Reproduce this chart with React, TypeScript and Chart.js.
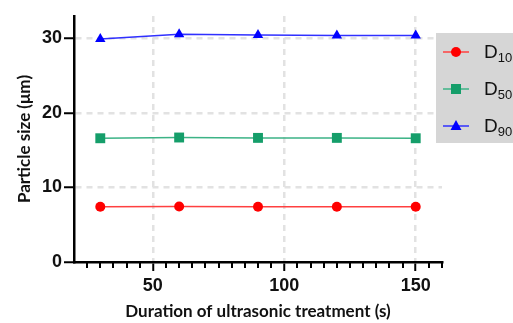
import React, { useEffect, useRef } from "react";
import { Chart, registerables } from "chart.js";

Chart.register(...registerables);

const durations = [30, 60, 90, 120, 150];
const d10 = [7.4, 7.45, 7.4, 7.4, 7.4];
const d50 = [16.6, 16.7, 16.65, 16.65, 16.6];
const d90 = [29.9, 30.55, 30.45, 30.4, 30.4];
const seriesNames = ["10", "50", "90"];
const xMajorTicks = [50, 100, 150];
const yTicks = [0, 10, 20, 30];

const RED = "#ff0000";
const GREEN = "#159e6a";
const BLUE = "#0000ff";
const GRID = "#e2e2e2";

const legendPlugin = {
  id: "sideLegend",
  afterDraw(chart: any) {
    const ctx = chart.ctx;
    ctx.save();
    ctx.fillStyle = "#d6d6d6";
    ctx.fillRect(436, 33, 80, 110);
    const rows = [
      { y: 52, color: RED, line: "#ff4040", shape: "circle" },
      { y: 89, color: GREEN, line: "#3cb386", shape: "square" },
      { y: 126, color: BLUE, line: "#3030ff", shape: "triangle" },
    ];
    rows.forEach((r, i) => {
      ctx.strokeStyle = r.line;
      ctx.lineWidth = 1.5;
      ctx.beginPath();
      ctx.moveTo(443, r.y);
      ctx.lineTo(469, r.y);
      ctx.stroke();
      ctx.fillStyle = r.color;
      const cx = 456;
      ctx.beginPath();
      if (r.shape === "circle") {
        ctx.arc(cx, r.y, 5, 0, Math.PI * 2);
      } else if (r.shape === "square") {
        ctx.rect(cx - 5, r.y - 5, 10, 10);
      } else {
        ctx.moveTo(cx, r.y - 6);
        ctx.lineTo(cx + 5.5, r.y + 4);
        ctx.lineTo(cx - 5.5, r.y + 4);
        ctx.closePath();
      }
      ctx.fill();
      ctx.fillStyle = "#111";
      ctx.textBaseline = "alphabetic";
      ctx.textAlign = "left";
      ctx.font = "19px 'Liberation Sans', Arial, sans-serif";
      ctx.fillText("D", 484, r.y + 6);
      const w = ctx.measureText("D").width;
      ctx.font = "13px 'Liberation Sans', Arial, sans-serif";
      ctx.fillText(seriesNames[i], 484 + w, r.y + 10);
    });
    ctx.restore();
  },
};

const minorTickPlugin = {
  id: "minorTicks",
  afterDraw(chart: any) {
    const ctx = chart.ctx;
    const xs = chart.scales.x;
    const y0 = chart.chartArea.bottom;
    ctx.save();
    ctx.strokeStyle = "#000";
    ctx.lineWidth = 2;
    for (let v = 25; v <= 160; v += 5) {
      if (v % 50 === 0) continue;
      const px = Math.round(xs.getPixelForValue(v));
      ctx.beginPath();
      ctx.moveTo(px, y0);
      ctx.lineTo(px, y0 + 6);
      ctx.stroke();
    }
    ctx.restore();
  },
};

function makeSet(label: string, data: number[], color: string, line: string, style: string, r: number) {
  return {
    label,
    data: durations.map((x, i) => ({ x, y: data[i] })),
    borderColor: line,
    backgroundColor: color,
    pointBackgroundColor: color,
    pointBorderColor: color,
    pointStyle: style,
    pointRadius: r,
    borderWidth: 1.5,
    pointBorderWidth: 0,
  };
}

export default function App() {
  const ref = useRef<HTMLCanvasElement>(null);
  useEffect(() => {
    if (!ref.current) return;
    const chart = new Chart(ref.current, {
      type: "line",
      data: {
        datasets: [
          makeSet("D10", d10, RED, "#ff4040", "circle", 5),
          makeSet("D50", d50, GREEN, "#3cb386", "rect", 7),
          makeSet("D90", d90, BLUE, "#3030ff", "triangle", 6),
        ],
      },
      options: {
        animation: false,
        responsive: false,
        layout: { padding: { left: 0, right: 71, top: 16, bottom: 0 } },
        plugins: { legend: { display: false }, tooltip: { enabled: false } },
        scales: {
          x: {
            type: "linear",
            min: 20,
            max: 160,
            afterBuildTicks: (s: any) => {
              s.ticks = xMajorTicks.map((v) => ({ value: v }));
            },
            afterFit: (s: any) => {
              s.height = 61;
            },
            ticks: {
              color: "#111",
              font: { family: "'Liberation Sans', Arial, sans-serif", size: 18, weight: "bold" },
              padding: 4,
              maxRotation: 0,
            },
            grid: {
              color: GRID,
              lineWidth: 2.5,
              tickLength: 9,
              tickColor: "#000",
              tickWidth: 2,
            },
            border: { color: "#000", width: 2.5, dash: [6, 5] },
            title: {
              display: true,
              text: "Duration of ultrasonic treatment (s)",
              color: "#111",
              font: { family: "Lato, 'Open Sans', sans-serif", size: 17, weight: "bold" },
              padding: { top: 0, bottom: 1 },
            },
          },
          y: {
            type: "linear",
            min: 0,
            max: 33,
            afterBuildTicks: (s: any) => {
              s.ticks = yTicks.map((v) => ({ value: v }));
            },
            afterFit: (s: any) => {
              s.width = 74;
            },
            ticks: {
              color: "#111",
              font: { family: "'Liberation Sans', Arial, sans-serif", size: 18, weight: "bold" },
              padding: 2,
            },
            grid: {
              color: (c: any) => (c.tick && c.tick.value === 0 ? "rgba(0,0,0,0)" : GRID),
              lineWidth: 2.5,
              tickLength: 10,
              tickColor: "#000",
              tickWidth: 2,
            },
            border: { color: "#000", width: 2.5, dash: [6, 5] },
            title: {
              display: true,
              text: "Particle size (μm)",
              color: "#111",
              font: { family: "Lato, 'Open Sans', sans-serif", size: 17, weight: "bold" },
              padding: { top: 14, bottom: 0 },
            },
          },
        },
      },
      plugins: [minorTickPlugin, legendPlugin],
    } as any);
    return () => chart.destroy();
  }, []);
  return (
    <div style={{ position: "fixed", left: 0, top: 0, width: 513, height: 323, background: "#fff" }}>
      <canvas ref={ref} width={513} height={323} style={{ width: 513, height: 323 }} />
    </div>
  );
}
